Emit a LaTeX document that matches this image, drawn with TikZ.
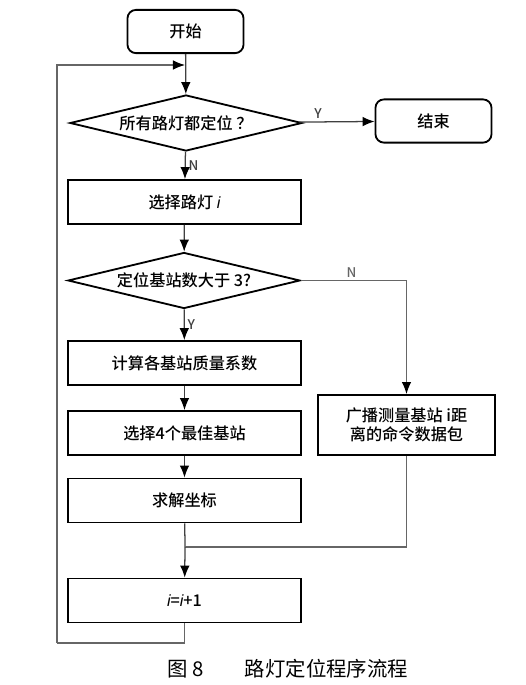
\documentclass[tikz,border=0pt]{standalone}
\usepackage{fontspec}
\setmainfont{Noto Sans CJK SC}[UprightFont=* Medium]
\newfontfamily\capfont{Noto Sans CJK SC}
\newfontfamily\latfont{Liberation Sans}
\usepackage{tikz}
\usetikzlibrary{shapes.geometric, positioning, arrows.meta, calc}

% italic loop index
\newcommand{\vi}{{\latfont\itshape i}}

\begin{document}
\begin{tikzpicture}[
        x=0.025cm, y=-0.025cm,
        font=\fontsize{11.5}{14}\selectfont,
        % Define styles for the boxes and diamonds
        terminal/.style={draw, line width=1.3pt, rectangle, rounded corners=6pt, minimum width=2.9cm, minimum height=1.08cm, align=center},
        process/.style={draw, line width=1.3pt, rectangle, minimum width=5.83cm, minimum height=1.1cm, align=center},
        decision/.style={draw, line width=1.3pt, diamond, aspect=4, inner sep=0pt, minimum width=5.8cm, minimum height=1.4cm, align=center},
        flow/.style={line width=0.9pt, black!75, -{Latex[length=3mm,width=2.4mm,color=black]}},
        line/.style={line width=0.9pt, black!60},
        lbl/.style={font=\fontsize{9.5}{11}\selectfont, inner sep=2pt}
    ]
    \useasboundingbox (0,0) rectangle (526,685);

    % Draw the main column
    \node[terminal] (start) at (185.5,31.5) {开始};
    \node[decision] (allset) at (186,123) {所有路灯都定位\ ？};
    \node[terminal] (stop) at (433.5,121) {结束};
    \node[process] (pick) at (184.5,202) {选择路灯 \vi};
    \node[decision] (enough) at (184,280.5) {定位基站数大于 3?};
    \node[process] (quality) at (184.5,363) {计算各基站质量系数};
    \node[process] (best) at (184.5,433) {选择4个最佳基站};
    \node[process] (solve) at (184.5,500.5) {求解坐标};
    \node[process] (next) at (184.5,600.5) {\vi=\vi+1};

    % Draw the side branch
    \node[process, minimum width=4.43cm, minimum height=1.5cm] (bcast) at (406.5,425) {广播测量基站 i距\\离的命令数据包};

    % Helper points for the joins and the loop
    \coordinate (merge) at (185,547);
    \coordinate (back) at (57,643);
    \coordinate (loopin) at (185,65);

    % Draw the connecting lines
    \draw[flow] (start) -- (allset);
    \draw[flow] (allset) -- node[lbl, above, pos=0.25] {Y} (stop);
    \draw[flow] (allset) -- node[lbl, right] {N} (pick);
    \draw[flow] (pick) -- (enough);
    \draw[flow] (enough) -- node[lbl, right] {Y} (quality);
    \draw[flow, black!60] (enough.east) -| node[lbl, above, pos=0.24] {N} (bcast);
    \draw[flow] (quality) -- (best);
    \draw[flow] (best) -- (solve);
    \draw[line, black!75] (solve) -- (merge);
    \draw[line] (bcast) |- (merge);
    \draw[flow] (merge) -- (next);
    \draw[line] (next) |- (back);
    \draw[flow, black!60] (back) |- (loopin);

    % Caption
    \node[font=\capfont\fontsize{14.5}{17}\selectfont] (caption) at (288,669) {图 8\hspace{2em}路灯定位程序流程};
\end{tikzpicture}
\end{document}
